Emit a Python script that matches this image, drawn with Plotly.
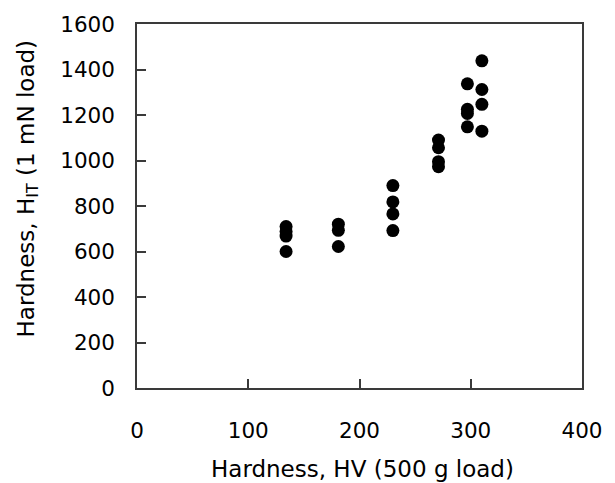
import plotly.graph_objects as go

# Vickers hardness (500 g load) for each specimen and the matching
# instrumented indentation hardness H_IT (1 mN load) measurements.
hv_500g = [134, 134, 134, 134,
           181, 181, 181,
           230, 230, 230, 230,
           271, 271, 271, 271,
           297, 297, 297, 297,
           310, 310, 310, 310]
hit_1mN = [710, 688, 668, 600,
           720, 693, 622,
           890, 818, 765, 692,
           1090, 1056, 995, 973,
           1337, 1225, 1207, 1148,
           1438, 1312, 1247, 1129]

x_ticks = [0, 100, 200, 300, 400]
y_ticks = [0, 200, 400, 600, 800, 1000, 1200, 1400, 1600]

tick_font = dict(family="DejaVu Sans", size=21.5, color="black")
title_font = dict(family="DejaVu Sans", size=23, color="black")
axis_color = "#3a3a3a"

fig = go.Figure(
    go.Scatter(
        x=hv_500g,
        y=hit_1mN,
        mode="markers",
        marker=dict(size=13, color="black"),
        showlegend=False,
    )
)

axis_common = dict(
    showgrid=False,
    zeroline=False,
    showline=True,
    linecolor=axis_color,
    linewidth=1.5,
    mirror=True,
    ticks="inside",
    ticklen=9,
    tickwidth=1.5,
    tickcolor=axis_color,
    tickfont=tick_font,
)

fig.update_xaxes(range=[0, 400], tickvals=x_ticks, ticktext=[str(v) for v in x_ticks],
                 ticklabelstandoff=22, **axis_common)
fig.update_yaxes(range=[0, 1600], tickvals=y_ticks, ticktext=[str(v) for v in y_ticks],
                 ticklabelstandoff=16, **axis_common)

fig.add_annotation(
    text="Hardness, HV (500 g load)",
    xref="paper", yref="paper", x=0.506, y=-0.2235,
    xanchor="center", yanchor="middle", showarrow=False, font=title_font,
)
fig.add_annotation(
    text="Hardness, H<sub>IT</sub> (1 mN load)",
    xref="paper", yref="paper", x=-0.246, y=0.547,
    xanchor="center", yanchor="middle", textangle=-90, showarrow=False, font=title_font,
)

fig.update_layout(
    width=615,
    height=483,
    margin=dict(l=137, r=32, t=18, b=95),
    plot_bgcolor="white",
    paper_bgcolor="white",
)

fig.write_html("out.html")
